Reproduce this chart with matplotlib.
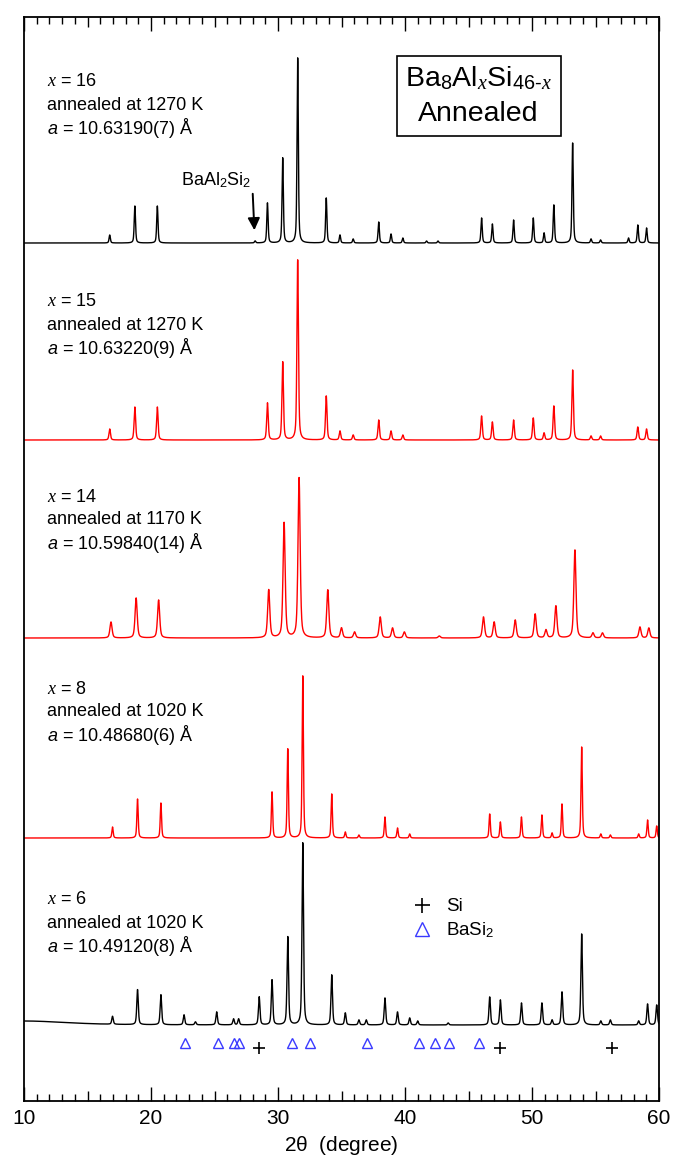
import numpy as np
import matplotlib.pyplot as plt
from matplotlib.ticker import MultipleLocator

plt.rcParams['font.family'] = ['Liberation Sans', 'DejaVu Sans']
plt.rcParams['mathtext.fontset'] = 'custom'
plt.rcParams['mathtext.rm'] = 'Liberation Sans'
plt.rcParams['mathtext.it'] = 'Liberation Serif:italic'
plt.rcParams['mathtext.sf'] = 'Liberation Sans:italic'

pos_x16 = [16.75, 18.73, 20.50, 28.20, 29.17, 30.37, 31.55, 33.80, 34.88, 35.92, 37.93, 38.90,
           39.83, 41.70, 42.60, 46.03, 46.88, 48.55, 50.10, 50.95, 51.72, 53.20, 54.65, 55.40,
           57.60, 58.33, 59.02]
int_x16 = [8, 37, 37, 2, 40, 85, 185, 45, 8, 4, 21, 9,
           5, 2, 2, 25, 19, 23, 25, 10, 38, 100, 4, 3,
           5, 18, 15]

pos_x15 = [16.75, 18.73, 20.50, 29.17, 30.37, 31.55, 33.80, 34.88, 35.92, 37.93, 38.90, 39.83,
           46.03, 46.88, 48.55, 50.10, 50.95, 51.72, 53.20, 54.65, 55.40, 58.33, 59.02]
int_x15 = [11, 33, 33, 37, 78, 180, 44, 9, 5, 20, 9, 5,
           24, 18, 20, 22, 7, 34, 70, 4, 4, 13, 11]

pos_x14 = [16.85, 18.83, 20.60, 29.27, 30.48, 31.66, 33.92, 35.00, 36.03, 38.05, 39.02, 39.95,
           42.70, 46.18, 47.02, 48.68, 50.25, 51.10, 51.88, 53.38, 54.80, 55.55, 58.50, 59.20]
int_x14 = [16, 40, 38, 48, 115, 160, 48, 10, 6, 21, 10, 6,
           2, 21, 16, 18, 24, 8, 32, 88, 5, 5, 11, 10]

pos_x8 = [16.97, 18.94, 20.78, 29.53, 30.77, 31.95, 34.23, 35.30, 36.37, 38.42, 39.41, 40.37,
          46.67, 47.51, 49.17, 50.78, 51.58, 52.36, 53.91, 55.42, 56.17, 58.40, 59.10, 59.82]
int_x8 = [11, 39, 35, 46, 89, 162, 44, 6, 3, 21, 10, 4,
          24, 16, 21, 23, 5, 34, 91, 4, 3, 4, 18, 12]

pos_x6 = [10.00, 16.97, 18.94, 20.78, 22.60, 23.50, 25.17, 26.50, 26.90, 28.52, 29.53, 30.77,
          31.95, 34.23, 35.30, 36.37, 36.95, 38.42, 39.41, 40.37, 41.00, 43.40, 46.67, 47.51,
          49.17, 50.78, 51.58, 52.36, 53.91, 55.42, 56.17, 58.40, 59.10, 59.82]
int_x6 = [4, 8, 35, 30, 10, 3, 13, 6, 6, 28, 45, 88,
          182, 50, 12, 5, 5, 27, 13, 7, 4, 2, 28, 25,
          22, 22, 5, 33, 91, 4, 5, 4, 21, 20]
wid_x6 = [8] + [0.14] * 33

si_pos = [28.52, 47.45, 56.30]
basi2_pos = [22.70, 25.25, 26.55, 26.90, 31.10, 32.50, 37.00, 41.10, 42.40, 43.50, 45.80]

compositions = ['16', '15', '14', '8', '6']
anneal_T = ['1270', '1270', '1170', '1020', '1020']
lattice = ['10.63190(7)', '10.63220(9)', '10.59840(14)', '10.48680(6)', '10.49120(8)']

two_theta = np.arange(10.0, 60.0001, 0.01)


def pattern(pos, hts, fwhm):
    fwhm = np.broadcast_to(fwhm, (len(pos),))
    y = np.zeros_like(two_theta)
    for p, h, w in zip(pos, hts, fwhm):
        d = (two_theta - p) / (w / 2)
        y += h * (0.5 / (1 + d ** 2) + 0.5 * np.exp(-np.log(2) * d ** 2))
    return y


curves = [pattern(pos_x16, int_x16, 0.12),
          pattern(pos_x15, int_x15, 0.14),
          pattern(pos_x14, int_x14, 0.20),
          pattern(pos_x8, int_x8, 0.12),
          pattern(pos_x6, int_x6, wid_x6)]
offsets = [858, 661, 463, 263, 76]
colors = ['black', 'red', 'red', 'red', 'black']
label_top = [1019, 799, 604, 412, 201]

fig = plt.figure(figsize=(6.75, 11.72), dpi=100)
ax = fig.add_axes([24 / 675, 71 / 1172, 635 / 675, 1084 / 1172])

for curve, off, col in zip(curves, offsets, colors):
    ax.plot(two_theta, curve + off, color=col, lw=1.0)

for yt, comp, temp, lat in zip(label_top, compositions, anneal_T, lattice):
    ax.text(11.8, yt, f'$x$ = {comp}', fontsize=13, va='center')
    ax.text(11.8, yt - 23, f'annealed at {temp} K', fontsize=13, va='center')
    ax.text(11.8, yt - 46, r'$\mathsf{a}$ = ' + lat + ' Å', fontsize=13, va='center')

ax.text(45.8, 1005, 'Ba$_8$Al$_x$Si$_{46\\text{-}x}$\nAnnealed', fontsize=20.5,
        ha='center', va='center', multialignment='center', linespacing=1.45,
        bbox=dict(boxstyle='square,pad=0.3', fc='white', ec='black', lw=1.2))

ax.text(25.1, 921, 'BaAl$_2$Si$_2$', fontsize=13, ha='center', va='center')
ax.annotate('', xy=(28.15, 868), xytext=(28.0, 910),
            arrowprops=dict(arrowstyle='-|>', color='black', lw=1.4, mutation_scale=18))

si_mark, = ax.plot(si_pos, [53] * len(si_pos), ls='none', marker='+', ms=8,
                   mew=1.2, color='black', label='Si')
ba_mark, = ax.plot(basi2_pos, [58] * len(basi2_pos), ls='none', marker='^', ms=7.5,
                   mew=1.0, mfc='none', color='#3a3aff', label='BaSi$_2$')
ax.legend(handles=[si_mark, ba_mark], loc='upper left', bbox_to_anchor=(0.612, 0.187),
          frameon=False, fontsize=13.5, handlelength=1.0, handletextpad=0.8,
          labelspacing=0.25, borderpad=0, borderaxespad=0, numpoints=1, markerscale=1.35)

ax.set_xlim(10, 60)
ax.set_ylim(0, 1084)
ax.set_yticks([])
ax.xaxis.set_major_locator(MultipleLocator(10))
ax.xaxis.set_minor_locator(MultipleLocator(1))
ax.tick_params(axis='x', which='both', direction='in', top=True, bottom=True, width=1.0)
ax.tick_params(axis='x', which='major', length=10, labelsize=15, pad=6)
ax.tick_params(axis='x', which='minor', length=5)
for loc, tick in zip(ax.xaxis.get_minorticklocs(), ax.xaxis.get_minor_ticks()):
    if abs(loc % 5) < 1e-6:
        tick.tick1line.set_markersize(7.5)
        tick.tick2line.set_markersize(7.5)
for sp in ax.spines.values():
    sp.set_linewidth(1.3)
ax.set_xlabel(r'2$\mathrm{\theta}$  (degree)', fontsize=15, labelpad=4)

fig.savefig('out.png', dpi=100)
